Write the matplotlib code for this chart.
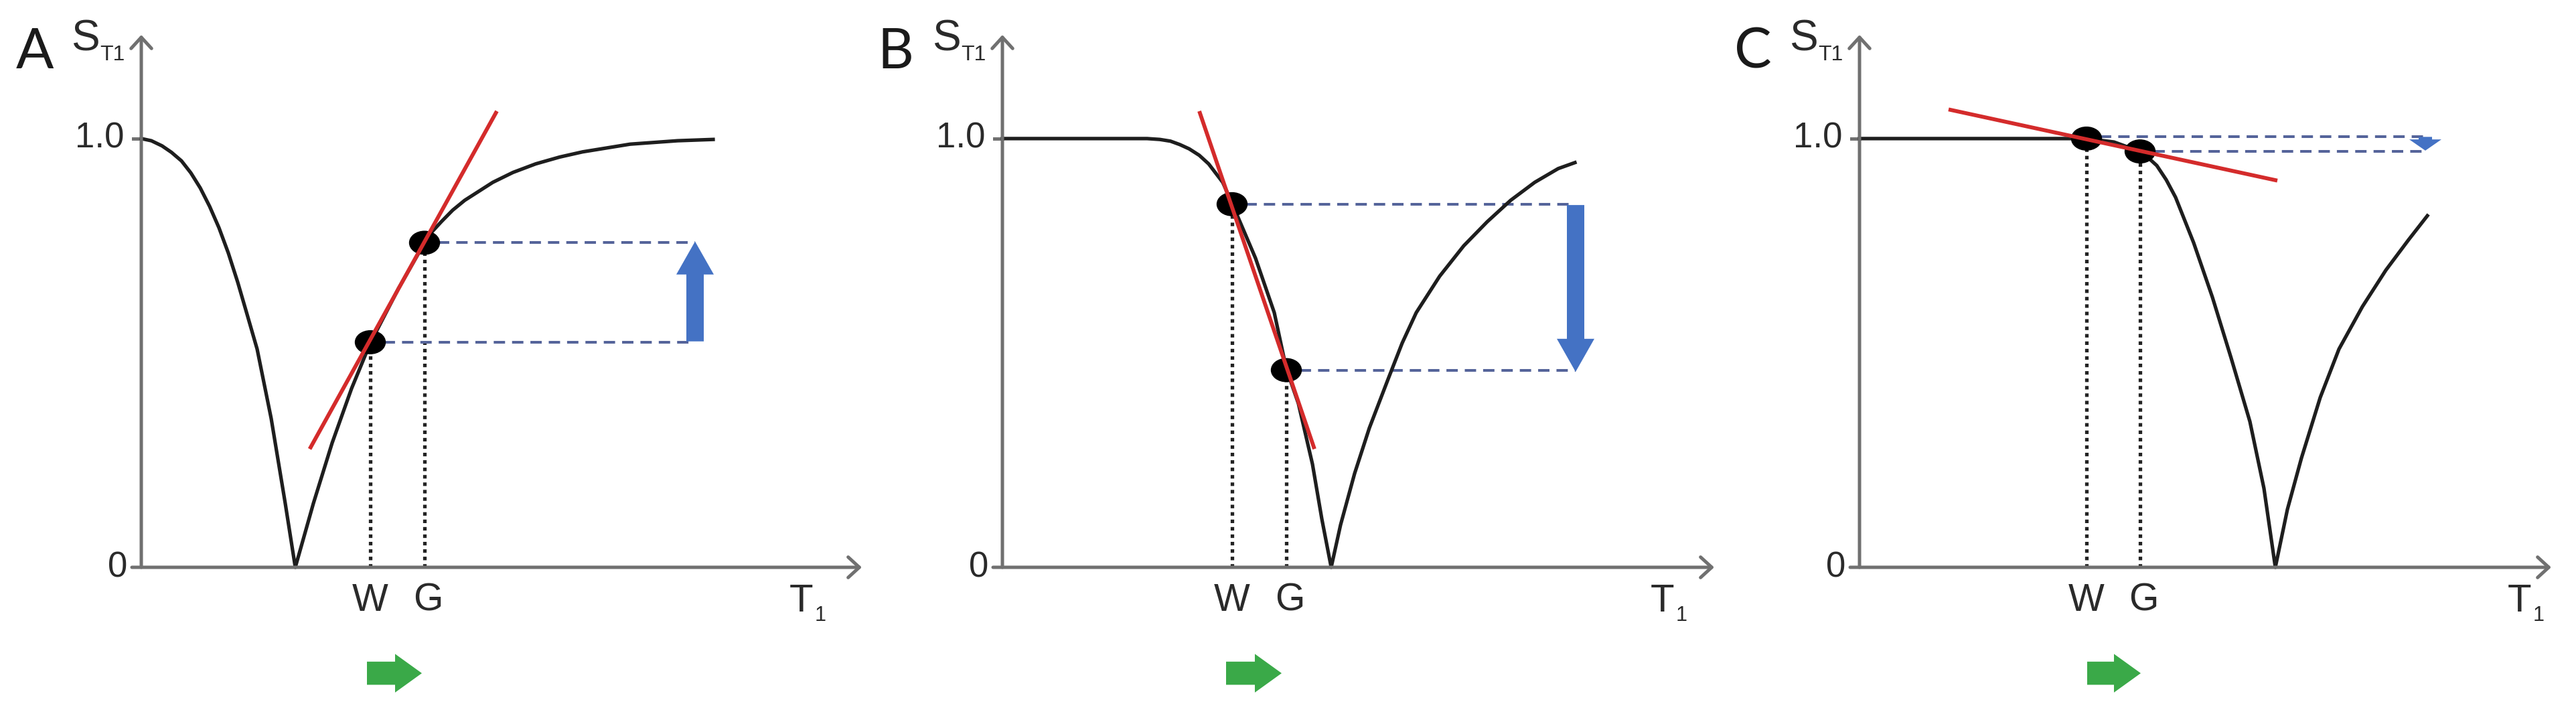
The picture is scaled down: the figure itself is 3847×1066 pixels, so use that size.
import matplotlib
matplotlib.use("Agg")
import matplotlib.pyplot as plt
from matplotlib.patches import Ellipse, FancyArrow

plt.rcParams['font.family'] = ['Liberation Sans', 'DejaVu Sans']

# signal curves (T1 in arbitrary units, S normalised)
t_a = [0.00, 0.15, 0.31, 0.45, 0.60, 0.74, 0.88, 1.02, 1.16, 1.30, 1.44, 1.58, 1.73, 1.94, 2.15, 2.30,
       2.57, 2.85, 3.14, 3.42, 3.84, 4.23, 4.35, 4.48, 4.65, 4.83, 5.00, 5.25, 5.55, 5.89, 6.25,
       6.59, 7.30, 8.01, 8.54]
s_a = [1.000, 0.995, 0.983, 0.968, 0.948, 0.920, 0.885, 0.842, 0.792, 0.733, 0.665, 0.590, 0.509,
       0.347, 0.149, 0.0,
       0.149, 0.290, 0.417, 0.523, 0.650, 0.757, 0.784, 0.806, 0.833, 0.856, 0.873, 0.898, 0.921,
       0.941, 0.957, 0.969, 0.987, 0.995, 0.998]

t_b = [0.00, 2.16, 2.35, 2.51, 2.65, 2.79, 2.94, 3.08, 3.29, 3.43, 3.78, 4.06, 4.24, 4.42, 4.63,
       4.77, 4.91,
       5.05, 5.26, 5.48, 5.76, 5.97, 6.18, 6.53, 6.89, 7.24, 7.59, 7.95, 8.30, 8.55]
s_b = [1.000, 1.000, 0.998, 0.994, 0.986, 0.976, 0.961, 0.941, 0.898, 0.849, 0.721, 0.594, 0.463,
       0.382, 0.241, 0.113, 0.0,
       0.099, 0.219, 0.325, 0.439, 0.523, 0.594, 0.679, 0.750, 0.806, 0.856, 0.898, 0.930, 0.944]

t_c = [0.00, 3.39, 3.80, 4.19, 4.30, 4.44, 4.58, 4.72, 4.99, 5.27, 5.55, 5.83, 6.04, 6.21,
       6.39, 6.60, 6.88, 7.16, 7.51, 7.86, 8.20, 8.48]
s_c = [1.000, 1.000, 0.992, 0.970, 0.957, 0.937, 0.904, 0.863, 0.757, 0.630, 0.488, 0.340, 0.184,
       0.0,
       0.135, 0.255, 0.396, 0.509, 0.608, 0.693, 0.764, 0.820]

curves_t = [t_a, t_b, t_c]
curves_s = [s_a, s_b, s_c]

labels = ['A', 'B', 'C']
w_t = [3.42, 3.43, 3.39]
w_s = [0.525, 0.847, 1.000]
g_t = [4.23, 4.24, 4.19]
g_s = [0.757, 0.460, 0.970]

tan_t = [(2.515, 5.31), (2.94, 4.66), (1.33, 6.24)]
tan_s = [(0.276, 1.064), (1.064, 0.276), (1.068, 0.902)]

shift_x = [8.27, 8.56, 8.45]
shift_from = [0.527, 0.845, 1.004]
shift_to = [0.760, 0.456, 0.972]
dash_levels = [(0.525, 0.757), (0.847, 0.460), (1.004, 0.970)]

green_start = [3.37, 3.34, 3.40]
green_end = [4.19, 4.17, 4.20]

x_max = [10.76, 10.63, 10.33]
left_px = [211, 1497, 2777]

W, H = 3848, 1066
y_top = 1.242
axis_grey = '#707070'
text_col = '#2a2a2a'
red = '#d42b2b'
blue = '#4472c4'
dash_col = '#55649a'
green = '#3aa948'

fig = plt.figure(figsize=(W / 100, H / 100), dpi=100)
fig.patch.set_facecolor('white')

for i in range(3):
    ax = fig.add_axes([left_px[i] / W, (H - 847) / H, x_max[i] * 100 / W, 795 / H])
    ax.set_xlim(0, x_max[i])
    ax.set_ylim(0, y_top)
    ax.axis('off')

    # axes with open arrow heads
    ax.annotate('', xy=(x_max[i], 0), xytext=(-0.14, 0), annotation_clip=False,
                arrowprops=dict(arrowstyle='->,head_width=0.55,head_length=0.6', lw=3.6,
                                color=axis_grey, shrinkA=0, shrinkB=0, mutation_scale=20))
    ax.annotate('', xy=(0, y_top), xytext=(0, 0), annotation_clip=False,
                arrowprops=dict(arrowstyle='->,head_width=0.55,head_length=0.6', lw=3.6,
                                color=axis_grey, shrinkA=0, shrinkB=0, mutation_scale=20))
    ax.plot([-0.12, 0], [1.0, 1.0], color=axis_grey, lw=3.6, clip_on=False)

    ax.text(-0.26, 1.0, '1.0', fontsize=38, color=text_col, ha='right', va='center')
    ax.text(-0.21, 0.0, '0', fontsize=38, color=text_col, ha='right', va='center')
    ax.text(-1.05, 1.232, 'S', fontsize=46, color=text_col, ha='left', va='center')
    ax.text(-0.62, 1.195, 'T1', fontsize=23, color=text_col, ha='left', va='center')
    ax.text(-1.87, 1.20, labels[i], fontsize=60, color='#1a1a1a', ha='left', va='center',
            family=['Lato', 'DejaVu Sans'])
    ax.text(9.86, -0.08, 'T', fontsize=42, color=text_col, ha='center', va='center')
    ax.text(10.06, -0.112, '1', fontsize=22, color=text_col, ha='left', va='center')
    ax.text(w_t[i], -0.078, 'W', fontsize=41, color=text_col, ha='center', va='center')
    ax.text(g_t[i] + 0.05, -0.078, 'G', fontsize=41, color=text_col, ha='center', va='center')

    # signal curve
    ax.plot(curves_t[i], curves_s[i], color='#1e1e1e', lw=3.8, solid_joinstyle='round',
            clip_on=False, zorder=2)

    # dotted drop lines
    for tx, sy in [(w_t[i], w_s[i]), (g_t[i], g_s[i])]:
        ax.plot([tx, tx], [0, sy], color='#222222', lw=3.8, dashes=(1, 1.1), zorder=1)

    # dashed level lines
    for tx, lev in zip([w_t[i], g_t[i]], dash_levels[i]):
        ax.plot([tx + 0.2, shift_x[i]], [lev, lev], color=dash_col, lw=2.9,
                dashes=(4.2, 2.6), zorder=1)

    # points W and G
    for tx, sy in [(w_t[i], w_s[i]), (g_t[i], g_s[i])]:
        ax.add_patch(Ellipse((tx, sy), 0.45, 0.054, color='black', zorder=3))

    # tangent
    ax.plot(tan_t[i], tan_s[i], color=red, lw=4.2, zorder=4, solid_capstyle='butt')

    # blue shift arrow
    dy = shift_to[i] - shift_from[i]
    if i < 2:
        ax.add_patch(FancyArrow(shift_x[i], shift_from[i], 0, dy, width=0.26, head_width=0.56,
                                head_length=0.077, length_includes_head=True, color=blue,
                                lw=0, zorder=3))
    else:
        ax.add_patch(FancyArrow(shift_x[i], shift_from[i], 0, dy, width=0.2, head_width=0.48,
                                head_length=0.026, length_includes_head=True, color=blue,
                                lw=0, zorder=3))

    # green direction arrow
    ax.add_patch(FancyArrow(green_start[i], -0.247, green_end[i] - green_start[i], 0,
                            width=0.054, head_width=0.09, head_length=0.4,
                            length_includes_head=True, color=green, lw=0, clip_on=False))

fig.savefig('out.png', dpi=100, facecolor='white')
